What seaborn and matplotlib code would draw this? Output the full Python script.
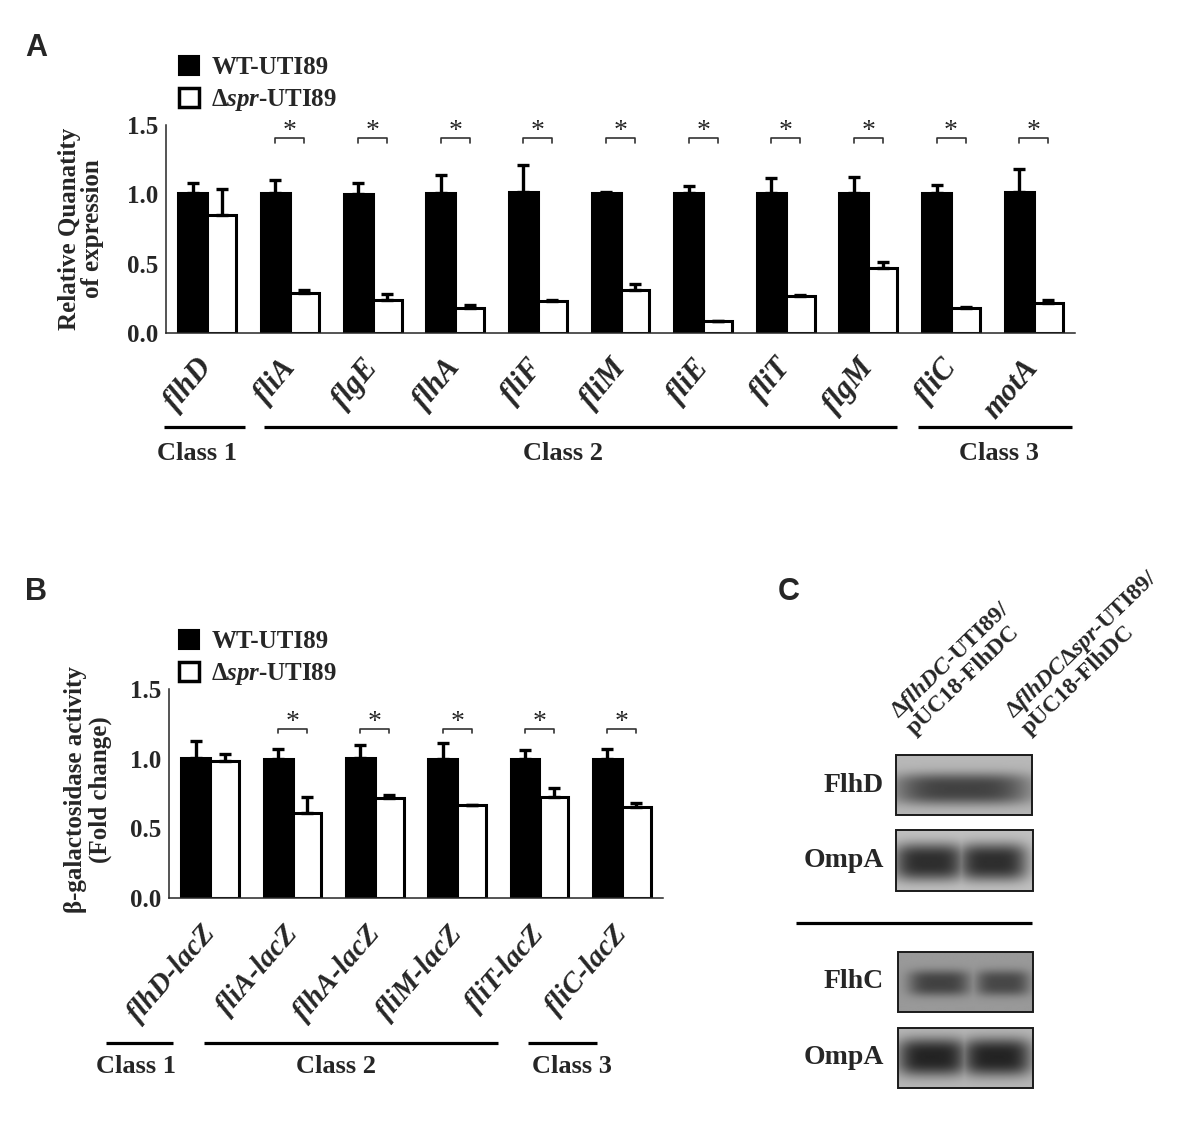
import numpy as np
import pandas as pd
import matplotlib
matplotlib.use("Agg")
import matplotlib.pyplot as plt
import matplotlib.transforms as mtransforms
from matplotlib.patches import Patch, Rectangle
import seaborn as sns

# ---------------- data ----------------
strains = ["WT-UTI89", "Δ$\\mathit{spr}$-UTI89"]

genes_a = ["flhD", "fliA", "flgE", "flhA", "fliF", "fliM", "fliE", "fliT", "flgM", "fliC", "motA"]
wt_a = [1.01, 1.01, 1.00, 1.01, 1.015, 1.01, 1.01, 1.01, 1.01, 1.01, 1.02]
wt_a_err = [0.075, 0.09, 0.08, 0.13, 0.195, 0.01, 0.05, 0.11, 0.115, 0.06, 0.16]
spr_a = [0.85, 0.29, 0.24, 0.18, 0.23, 0.31, 0.084, 0.264, 0.47, 0.178, 0.216]
spr_a_err = [0.19, 0.02, 0.04, 0.02, 0.01, 0.045, 0.0, 0.01, 0.04, 0.007, 0.025]
sig_a = [False, True, True, True, True, True, True, True, True, True, True]

genes_b = ["flhD-lacZ", "fliA-lacZ", "flhA-lacZ", "fliM-lacZ", "fliT-lacZ", "fliC-lacZ"]
wt_b = [1.005, 1.0, 1.005, 1.0, 1.0, 1.0]
wt_b_err = [0.125, 0.07, 0.095, 0.11, 0.06, 0.07]
spr_b = [0.98, 0.607, 0.72, 0.67, 0.727, 0.655]
spr_b_err = [0.05, 0.12, 0.02, 0.0, 0.063, 0.028]
sig_b = [False, True, True, True, True, True]

yticks = [0.0, 0.5, 1.0, 1.5]
ytick_labels = ["0.0", "0.5", "1.0", "1.5"]

class_names = ["Class 1", "Class 2", "Class 3"]

# ---------------- style ----------------
sns.set_style("white")
plt.rcParams['font.family'] = ['Liberation Serif', 'DejaVu Serif']
plt.rcParams['font.weight'] = 'bold'
plt.rcParams['mathtext.fontset'] = 'custom'
plt.rcParams['mathtext.rm'] = 'Liberation Serif:bold'
plt.rcParams['mathtext.it'] = 'Liberation Serif:italic:bold'
plt.rcParams['mathtext.bf'] = 'Liberation Serif:bold'
plt.rcParams['axes.linewidth'] = 1.1

W, H = 1183, 1121
fig = plt.figure(figsize=(W / 100, H / 100), dpi=100)


def px_axes(l, r, t, b):
    return fig.add_axes([l / W, 1 - b / H, (r - l) / W, (b - t) / H])


def draw_panel(ax, genes, wt, wt_err, spr, spr_err, sig, br_lo, br_hi,
               rot, label_dx, pad, label_size):
    n = len(genes)
    df = pd.DataFrame({
        "gene": genes * 2,
        "strain": [strains[0]] * n + [strains[1]] * n,
        "value": wt + spr,
    })
    sns.barplot(data=df, x="gene", y="value", hue="strain", order=genes,
                hue_order=strains, palette=["black", "white"],
                edgecolor="black", linewidth=2.2, width=0.7, errorbar=None,
                legend=False, ax=ax)
    centers = []
    for cont, vals, errs in zip(ax.containers, [wt, spr], [wt_err, spr_err]):
        xs = [p.get_x() + p.get_width() / 2 for p in cont]
        centers.append(xs)
        ax.errorbar(xs, vals, yerr=[np.zeros(len(vals)), errs], fmt='none',
                    ecolor='black', elinewidth=2.4, capsize=4.5, capthick=2.4,
                    zorder=3)
    for i, s in enumerate(sig):
        if s:
            x1, x2 = centers[0][i], centers[1][i]
            ax.plot([x1, x1, x2, x2], [br_lo, br_hi, br_hi, br_lo],
                    color='#333333', lw=1.2, clip_on=False)
            ax.text((x1 + x2) / 2, br_hi, '*', ha='center', va='baseline',
                    fontsize=20, fontweight='normal', clip_on=False)
    ax.set_xlim(-0.5, n - 0.5)
    ax.set_ylim(0, 1.5)
    ax.set_yticks(yticks)
    ax.set_yticklabels(ytick_labels, fontsize=18, fontweight='bold')
    ax.set_xticks(range(n))
    ax.set_xticklabels(genes, rotation=rot, ha='right', va='center',
                       rotation_mode='anchor', fontstyle='italic',
                       fontweight='bold', fontsize=label_size)
    ax.set_xlabel('')
    ax.set_ylabel('')
    ax.tick_params(axis='y', length=3.6, width=1.1, pad=2)
    ax.tick_params(axis='x', length=3.6, width=1.0, color='#555555', pad=pad)
    off = mtransforms.ScaledTranslation(label_dx / 100, 0, fig.dpi_scale_trans)
    for lab in ax.get_xticklabels():
        lab.set_transform(lab.get_transform() + off)
    sns.despine(ax=ax)


def class_bars(ax, spans, texts, y_line, y_text):
    tr = mtransforms.blended_transform_factory(ax.transData, ax.transAxes)
    for (a, b), (name, xc) in zip(spans, texts):
        ax.plot([a, b], [y_line, y_line], color='black', lw=2.3,
                transform=tr, clip_on=False, solid_capstyle='butt')
        ax.text(xc, y_text, name, transform=tr, ha='center', va='center',
                fontsize=19, fontweight='bold')


def legend_at(x, y):
    handles = [Patch(facecolor='black', edgecolor='black', linewidth=1.5),
               Patch(facecolor='white', edgecolor='black', linewidth=2.5)]
    fig.legend(handles, strains, loc='upper left',
               bbox_to_anchor=(x / W, 1 - y / H), frameon=False, borderpad=0,
               borderaxespad=0, handlelength=0.8, handleheight=0.8,
               handletextpad=0.5, labelspacing=0.3,
               prop=dict(family='Liberation Serif', weight='bold', size=18))


# ---------------- panel A ----------------
axA = px_axes(166, 1075, 125, 333)
draw_panel(axA, genes_a, wt_a, wt_a_err, spr_a, spr_a_err, sig_a,
           1.37, 1.406, rot=50, label_dx=0, pad=18, label_size=22)
class_bars(axA, [(-0.53, 0.45), (0.69, 8.35), (8.6, 10.46)],
           [(class_names[0], -0.12), (class_names[1], 4.31), (class_names[2], 9.58)],
           -0.452, -0.577)
legend_at(179, 56)
fig.text(36 / W, 1 - 48 / H, "A", family='Liberation Sans', weight='bold',
         fontsize=22, ha='center', va='center')
fig.text(81 / W, 1 - 229 / H, "Relative Quanatity\nof expression",
         rotation=90, ha='center', va='center', fontsize=18, fontweight='bold',
         linespacing=1.05)

# ---------------- panel B ----------------
axB = px_axes(169, 663, 689, 898)
draw_panel(axB, genes_b, wt_b, wt_b_err, spr_b, spr_b_err, sig_b,
           1.187, 1.216, rot=49, label_dx=0, pad=19, label_size=21)
class_bars(axB, [(-1.27, -0.45), (-0.07, 3.49), (3.86, 4.70)],
           [(class_names[0], -0.90), (class_names[1], 1.53), (class_names[2], 4.39)],
           -0.694, -0.804)
legend_at(179, 630)
fig.text(36 / W, 1 - 592 / H, "B", family='Liberation Sans', weight='bold',
         fontsize=22, ha='center', va='center')
fig.text(88 / W, 1 - 790 / H, "β-galactosidase activity\n(Fold change)",
         rotation=90, ha='center', va='center', fontsize=18, fontweight='bold',
         linespacing=1.05)

# ---------------- panel C (western blot) ----------------
axC = fig.add_axes([0, 0, 1, 1])
axC.set_xlim(0, W)
axC.set_ylim(H, 0)
axC.axis('off')

fig.text(789 / W, 1 - 592 / H, "C", family='Liberation Sans', weight='bold',
         fontsize=22, ha='center', va='center')

lane_labels = ["Δ$\\mathit{flhDC}$-UTI89/\npUC18-FlhDC",
               "Δ$\\mathit{flhDC}$Δ$\\mathit{spr}$-UTI89/\npUC18-FlhDC"]
for (x0, y0), txt in zip([(918, 739), (1033, 739)], lane_labels):
    axC.text(x0, y0, txt, rotation=44, rotation_mode='anchor', ha='left',
             va='bottom', fontsize=17, fontweight='bold', linespacing=1.0)

blot_names = ["FlhD", "OmpA", "FlhC", "OmpA"]
blot_boxes = [(896, 1032, 755, 815), (896, 1033, 830, 891),
              (898, 1033, 952, 1012), (898, 1033, 1028, 1088)]
blot_bg = [0.72, 0.76, 0.60, 0.72]
blot_lobes = [
    [(962, 789, 70, 16, 0.46)],
    [(929, 862, 36, 19, 0.58), (993, 862, 35, 19, 0.58)],
    [(939, 983, 31, 13, 0.34), (1003, 983, 27, 13, 0.32)],
    [(932, 1057, 35, 19, 0.58), (997, 1057, 35, 19, 0.58)],
]
for name, (x0, x1, y0, y1), bg, lobes in zip(blot_names, blot_boxes, blot_bg, blot_lobes):
    xx, yy = np.meshgrid(np.arange(x0, x1 + 1, dtype=float),
                         np.arange(y0, y1 + 1, dtype=float))
    dark = np.zeros(xx.shape)
    for cx, cy, sx, sy, d in lobes:
        dark = np.maximum(dark, d * np.exp(-np.abs((xx - cx) / sx) ** 4
                                           - np.abs((yy - cy) / sy) ** 3))
    img = np.clip(bg - dark, 0, 1)
    axC.imshow(img, cmap='gray', vmin=0, vmax=1, extent=(x0, x1, y1, y0),
               interpolation='bilinear', aspect='auto')
    axC.add_patch(Rectangle((x0, y0), x1 - x0, y1 - y0, fill=False,
                            ec='#1a1a1a', lw=1.4))
    axC.text(884, (y0 + y1) / 2, name, ha='right', va='center', fontsize=20,
             fontweight='bold')
axC.plot([796, 1032], [923, 923], color='black', lw=2.3, solid_capstyle='butt')
axC.set_xlim(0, W)
axC.set_ylim(H, 0)

fig.savefig("out.png", dpi=100)
